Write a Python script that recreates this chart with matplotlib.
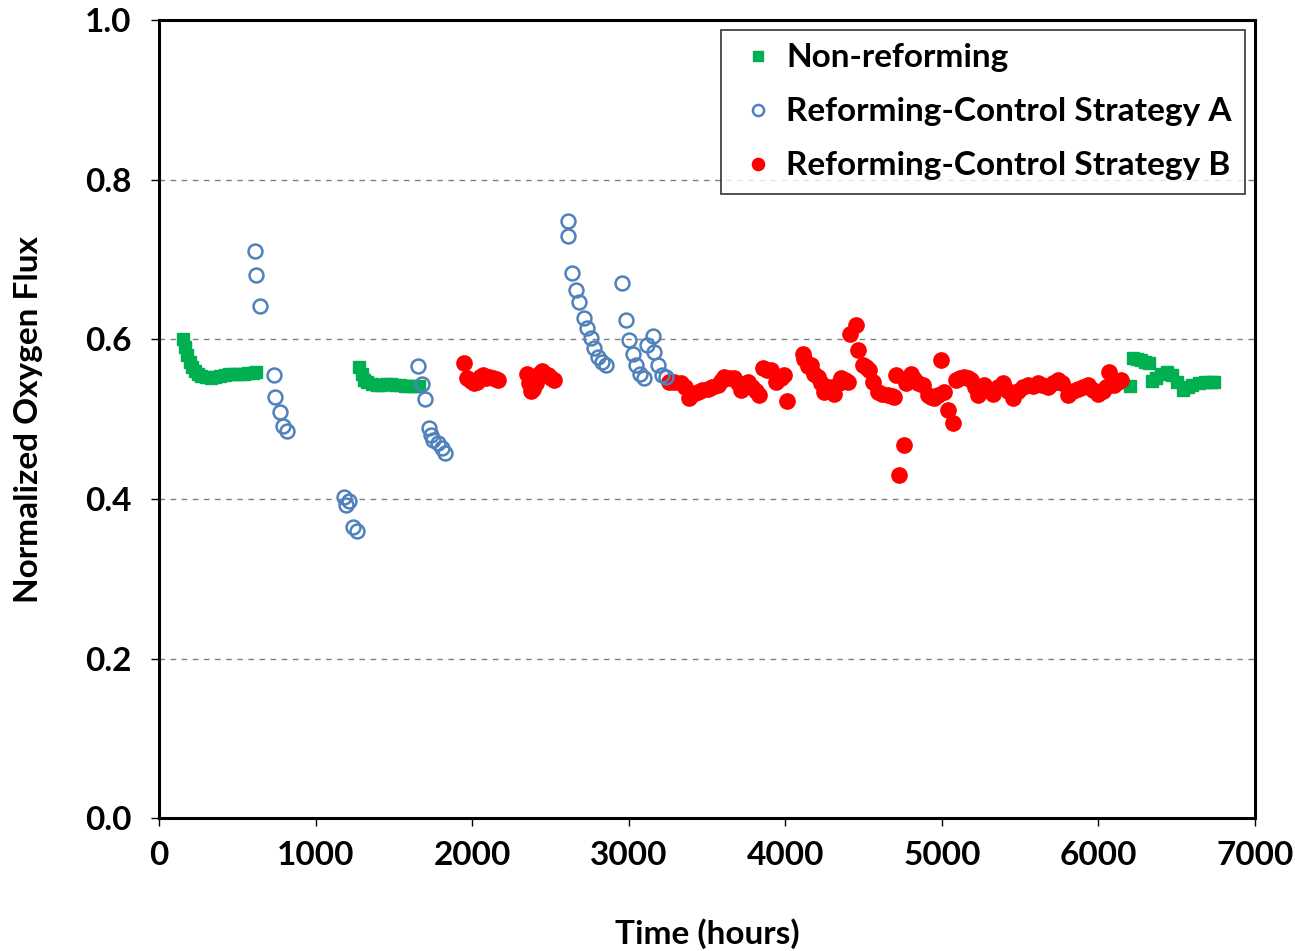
import matplotlib
matplotlib.use("Agg")
import matplotlib.pyplot as plt

plt.rcParams['font.family'] = ['Lato', 'DejaVu Sans']
plt.rcParams['font.weight'] = 'bold'

# Non-reforming
nr_x = [150, 165, 180, 195, 210, 230, 250, 270, 300, 330, 360, 390, 420, 450, 480, 510, 540, 570, 600, 620,
        1280, 1295, 1310, 1330, 1360, 1390, 1420, 1450, 1480, 1510, 1540, 1570, 1600, 1630, 1660,
        6200, 6220, 6245, 6270, 6300, 6325, 6340, 6370, 6400, 6440, 6470, 6500, 6540, 6570, 6600, 6640, 6680, 6720, 6740]
nr_y = [0.600, 0.590, 0.580, 0.572, 0.565, 0.560, 0.556, 0.554, 0.553, 0.552, 0.553, 0.554, 0.555, 0.556, 0.556, 0.557, 0.557, 0.558, 0.558, 0.559,
        0.565, 0.556, 0.549, 0.546, 0.544, 0.543, 0.543, 0.544, 0.544, 0.543, 0.543, 0.542, 0.542, 0.542, 0.542,
        0.541, 0.577, 0.575, 0.574, 0.572, 0.570, 0.548, 0.552, 0.557, 0.559, 0.555, 0.547, 0.536, 0.540, 0.543, 0.545, 0.546, 0.547, 0.547]

# Reforming - Control Strategy A
a_x = [613, 617, 643, 734, 741, 771, 792, 815,
       1183, 1213, 1195, 1237, 1267,
       1655, 1681, 1700, 1724, 1737, 1750, 1782, 1807, 1827,
       2614, 2614, 2635, 2663, 2685, 2712, 2734, 2759, 2780, 2806, 2827, 2855,
       2955, 2983, 3004, 3025, 3047, 3074, 3100, 3117, 3153, 3164, 3189, 3210, 3238]
a_y = [0.711, 0.680, 0.642, 0.555, 0.528, 0.509, 0.492, 0.485,
       0.403, 0.398, 0.392, 0.365, 0.360,
       0.566, 0.544, 0.525, 0.489, 0.480, 0.474, 0.470, 0.464, 0.457,
       0.748, 0.730, 0.683, 0.662, 0.647, 0.627, 0.614, 0.602, 0.589, 0.578, 0.572, 0.568,
       0.670, 0.624, 0.599, 0.582, 0.568, 0.557, 0.552, 0.593, 0.604, 0.584, 0.568, 0.555, 0.553]

# Reforming - Control Strategy B
b_x = [1950, 1970, 1990, 2010, 2030, 2050, 2070, 2090, 2110, 2130, 2150, 2165,
       2350, 2365, 2375, 2390, 2410, 2425, 2445, 2465, 2485, 2505, 2525,
       3259, 3290, 3334, 3360, 3387, 3410, 3440, 3470, 3504, 3530, 3568, 3590, 3611, 3640, 3675, 3700, 3717,
       3740, 3760, 3790, 3810, 3834, 3856, 3880, 3909, 3941, 3970, 3994, 4011, 4111, 4122, 4143, 4164,
       4186, 4207, 4230, 4249, 4280, 4303, 4313, 4340, 4356, 4380, 4399, 4415, 4452, 4467, 4494, 4515,
       4537, 4558, 4590, 4620, 4654, 4680, 4696, 4707, 4728, 4756, 4771, 4803, 4825, 4846, 4877, 4909,
       4930, 4952, 4975, 4995, 5016, 5037, 5069, 5090, 5115, 5143, 5165, 5186, 5210, 5229, 5250, 5271,
       5300, 5325, 5360, 5389, 5420, 5452, 5485, 5516, 5550, 5580, 5612, 5640, 5676, 5710, 5740, 5770,
       5804, 5835, 5868, 5900, 5931, 5965, 5995, 6030, 6050, 6070, 6102, 6125, 6144]
b_y = [0.570, 0.552, 0.548, 0.545, 0.546, 0.553, 0.555, 0.552, 0.553, 0.551, 0.550, 0.549,
       0.556, 0.545, 0.535, 0.538, 0.545, 0.556, 0.560, 0.557, 0.555, 0.552, 0.549,
       0.547, 0.546, 0.545, 0.540, 0.526, 0.532, 0.534, 0.537, 0.538, 0.540, 0.543, 0.548, 0.553, 0.552, 0.551, 0.545, 0.536,
       0.542, 0.547, 0.540, 0.535, 0.530, 0.564, 0.562, 0.561, 0.547, 0.552, 0.555, 0.523, 0.581, 0.575, 0.566, 0.568,
       0.557, 0.553, 0.545, 0.534, 0.540, 0.536, 0.532, 0.545, 0.551, 0.549, 0.547, 0.607, 0.618, 0.586, 0.568, 0.565,
       0.561, 0.547, 0.534, 0.532, 0.530, 0.529, 0.528, 0.555, 0.430, 0.467, 0.545, 0.557, 0.550, 0.545, 0.543, 0.530,
       0.528, 0.526, 0.530, 0.574, 0.534, 0.511, 0.495, 0.549, 0.551, 0.553, 0.551, 0.549, 0.540, 0.530, 0.538, 0.543,
       0.536, 0.532, 0.540, 0.545, 0.535, 0.526, 0.535, 0.540, 0.543, 0.542, 0.545, 0.543, 0.540, 0.545, 0.549, 0.545,
       0.530, 0.535, 0.538, 0.540, 0.543, 0.537, 0.532, 0.535, 0.540, 0.559, 0.543, 0.547, 0.549]

xticks = [0, 1000, 2000, 3000, 4000, 5000, 6000, 7000]
yticks = [0.0, 0.2, 0.4, 0.6, 0.8, 1.0]

fig = plt.figure(figsize=(12.95, 9.51), dpi=100)
ax = fig.add_axes([0.1228, 0.1395, 0.8463, 0.8395])

ax.plot(nr_x, nr_y, linestyle='none', marker='s', ms=9, color='#00B050', label='Non-reforming', zorder=3)
ax.plot(a_x, a_y, linestyle='none', marker='o', ms=10, mfc='none', mec='#4F81BD', mew=1.8,
        label='Reforming-Control Strategy A', zorder=4)
ax.plot(b_x, b_y, linestyle='none', marker='o', ms=11, color='#FF0000', label='Reforming-Control Strategy B', zorder=3)

ax.set_xlim(0, 7000)
ax.set_ylim(0, 1.0)
ax.set_xticks(xticks)
ax.set_yticks(yticks)
ax.set_yticklabels([f"{v:.1f}" for v in yticks])
ax.yaxis.grid(True, linestyle=(0, (4, 4)), color='#808080', linewidth=1.0)
ax.set_axisbelow(True)
for s in ax.spines.values():
    s.set_linewidth(2.2)
    s.set_color('black')
ax.tick_params(axis='both', direction='out', length=6, width=1.0, labelsize=24, pad=10)
ax.tick_params(axis='y', pad=14)
for lab in ax.get_xticklabels() + ax.get_yticklabels():
    lab.set_fontweight('bold')

ax.set_xlabel('Time (hours)', fontsize=24, fontweight='bold', labelpad=35)
ax.set_ylabel('Normalized Oxygen Flux', fontsize=24, fontweight='bold', labelpad=30)

leg = ax.legend(loc='upper right', bbox_to_anchor=(0.991, 0.9875), borderaxespad=0.0,
                frameon=True, fancybox=False, edgecolor='black', fontsize=24,
                handletextpad=0.15, borderpad=0.4, labelspacing=0.75,
                handlelength=1.4, markerscale=0.8)
leg.get_frame().set_linewidth(1.2)
for t in leg.get_texts():
    t.set_fontweight('bold')

fig.savefig('out.png', dpi=100)
